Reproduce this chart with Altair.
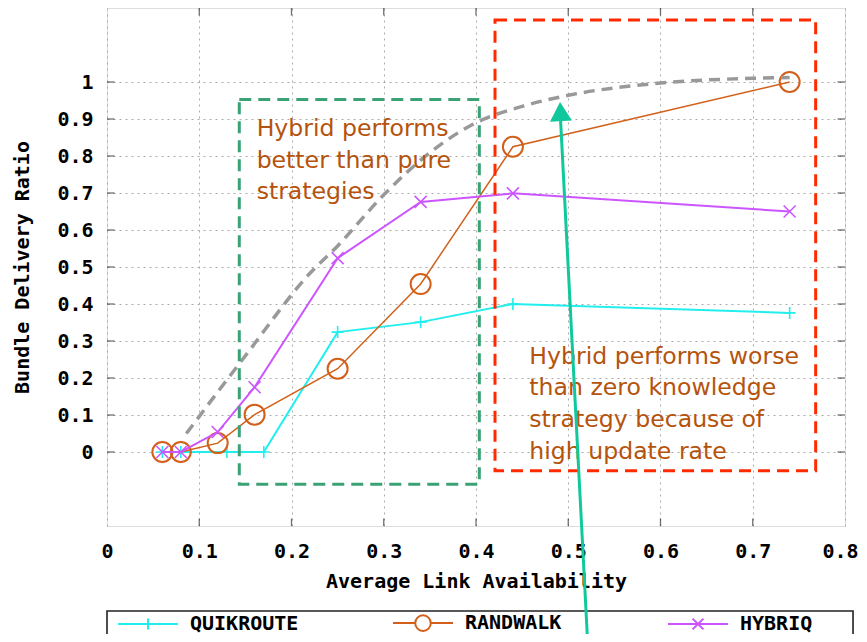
import altair as alt
import pandas as pd

# ---------------- data ----------------
series_names = ["QUIKROUTE", "RANDWALK", "HYBRIQ"]
series_colors = ["#22eeee", "#d2601a", "#cc55ff"]

quik_x = [0.06, 0.08, 0.13, 0.17, 0.25, 0.34, 0.44, 0.74]
quik_y = [0.0, 0.0, 0.0, 0.0, 0.324, 0.351, 0.400, 0.376]
rand_x = [0.06, 0.08, 0.12, 0.16, 0.25, 0.34, 0.44, 0.74]
rand_y = [0.0, 0.0, 0.024, 0.101, 0.225, 0.454, 0.825, 1.0]
hyb_x = [0.06, 0.08, 0.12, 0.16, 0.25, 0.34, 0.44, 0.74]
hyb_y = [0.0, 0.0, 0.054, 0.175, 0.524, 0.676, 0.699, 0.650]

ideal_x = [0.086, 0.15, 0.22, 0.25, 0.30, 0.35, 0.40, 0.45, 0.50, 0.60, 0.70, 0.74]
ideal_y = [0.05, 0.26, 0.483, 0.557, 0.695, 0.809, 0.89, 0.934, 0.964, 0.997, 1.01, 1.012]

x_domain = [0, 0.8]
y_domain = [-0.2, 1.2]
x_ticks = [0, 0.1, 0.2, 0.3, 0.4, 0.5, 0.6, 0.7, 0.8]
y_ticks = [0, 0.1, 0.2, 0.3, 0.4, 0.5, 0.6, 0.7, 0.8, 0.9, 1]

box_x1 = [0.1434, 0.4206]
box_x2 = [0.4036, 0.7682]
box_y1 = [-0.0873, -0.0505]
box_y2 = [0.953, 1.1676]
box_colors = ["#3aa274", "#ff2a00"]

legend_box_x = [0.0, 0.8087]
legend_box_y = [-0.4297, -0.65]

note_texts = ["Hybrid performs\nbetter than pure\nstrategies",
              "Hybrid performs worse\nthan zero knowledge\nstrategy because of\nhigh update rate"]
note_x = [0.1622, 0.4578]
note_y = [0.9054, 0.2895]

arrow_x = [0.521, 0.4915]
arrow_y = [-0.5135, 0.905]
arrow_head_x = [0.4916]
arrow_head_y = [0.920]

marker_paths = ["M-1,0L1,0M0,-1L0,1", "circle", "M-1,-1L1,1M-1,1L1,-1"]
marker_sizes = [144, 400, 144]
line_widths = [2, 1.5, 2]
legend_paths = ["M-10,0L10,0M0,-1.8L0,1.8",
                "M-10,0L-2.6,0A2.6,2.6 0 1,1 2.6,0A2.6,2.6 0 1,1 -2.6,0M2.6,0L10,0",
                "M-10,0L10,0M-1.8,-1.8L1.8,1.8M-1.8,1.8L1.8,-1.8"]

# ---------------- tables ----------------
rows = []
for name, xs, ys in zip(series_names, [quik_x, rand_x, hyb_x], [quik_y, rand_y, hyb_y]):
    for i, (a, b) in enumerate(zip(xs, ys)):
        rows.append({"series": name, "x": a, "y": b, "order": i})
df = pd.DataFrame(rows)
ideal_df = pd.DataFrame({"x": ideal_x, "y": ideal_y})
box_df = pd.DataFrame({"x": box_x1, "x2": box_x2, "y": box_y1, "y2": box_y2, "c": box_colors})
legend_box_df = pd.DataFrame({"x": [legend_box_x[0]], "x2": [legend_box_x[1]],
                              "y": [legend_box_y[0]], "y2": [legend_box_y[1]]})
note_df = pd.DataFrame({"x": note_x, "y": note_y, "t": note_texts})
arrow_df = pd.DataFrame({"x": arrow_x, "y": arrow_y})
head_df = pd.DataFrame({"x": arrow_head_x, "y": arrow_head_y})
xtick_df = pd.DataFrame([{"x": t, "y": e} for t in x_ticks[1:-1] for e in y_domain])
ytick_df = pd.DataFrame([{"x": e, "y": t} for t in y_ticks for e in x_domain])

MONO = "DejaVu Sans Mono"
xscale = alt.Scale(domain=x_domain, nice=False, zero=False)
yscale = alt.Scale(domain=y_domain, nice=False, zero=False)

last_test = "datum.value >= 0.79"
x_axis = alt.Axis(values=x_ticks, format="~g", grid=True, gridDash=[2, 4], gridColor="#aaaaaa",
                  gridWidth=1, ticks=False, tickSize=0, domain=False, labelFont=MONO,
                  labelFontSize=20, labelFontWeight="bold", labelColor="black", labelPadding=15,
                  labelFlush=False, labelOverlap=False,
                  labelAlign={"condition": {"test": last_test, "value": "right"}, "value": "center"},
                  labelOffset={"condition": {"test": last_test, "value": 13}, "value": 0},
                  title="Average Link Availability",
                  titleFont=MONO, titleFontSize=20, titleFontWeight="bold", titleColor="black",
                  titleY=55, titleBaseline="middle")
y_axis = alt.Axis(values=y_ticks, format="~g", grid=True, gridDash=[2, 4], gridColor="#aaaaaa",
                  gridWidth=1, ticks=False, tickSize=0, domain=False, labelFont=MONO,
                  labelFontSize=20, labelFontWeight="bold", labelColor="black", labelPadding=14,
                  labelOverlap=False, title="Bundle Delivery Ratio",
                  titleFont=MONO, titleFontSize=20, titleFontWeight="bold", titleColor="black",
                  titleX=-85, titleY=259, titleBaseline="middle", titleAngle=270)


def X(f="x"):
    return alt.X(f, type="quantitative", scale=xscale, axis=x_axis)


def Y(f="y"):
    return alt.Y(f, type="quantitative", scale=yscale, axis=y_axis)


layers = []

# inward border ticks (clipped so only the inner half shows)
layers.append(alt.Chart(xtick_df).mark_tick(orient="vertical", size=15, thickness=1.3, color="#333333",
                                            clip=True).encode(x=X(), y=Y()))
layers.append(alt.Chart(ytick_df).mark_tick(orient="horizontal", size=15, thickness=1.3, color="#333333",
                                            clip=True).encode(x=X(), y=Y()))

# series lines and markers
for name, col, path, size, lw in zip(series_names, series_colors, marker_paths, marker_sizes, line_widths):
    sub = alt.Chart(df).transform_filter(alt.datum.series == name)
    layers.append(sub.mark_line(color=col, strokeWidth=lw).encode(x=X(), y=Y(), order="order:Q"))
    layers.append(sub.mark_point(shape=path, color=col, size=size, strokeWidth=2 if name == "RANDWALK" else 1.6,
                                 filled=False, opacity=1).encode(x=X(), y=Y()))

# ideal dashed curve
layers.append(alt.Chart(ideal_df).mark_line(color="#999999", strokeWidth=3.5, strokeDash=[11, 7],
                                            interpolate="monotone").encode(x=X(), y=Y()))

# dashed boxes
for i in range(len(box_x1)):
    layers.append(alt.Chart(box_df.iloc[[i]]).mark_rect(fill="transparent", stroke=box_colors[i],
                                                        strokeWidth=3, strokeDash=[12, 7]).encode(
        x=X(), x2="x2", y=Y(), y2="y2"))

# annotation text
layers.append(alt.Chart(note_df).mark_text(align="left", baseline="top", lineBreak="\n",
                                           font="DejaVu Sans", fontSize=23.6, lineHeight=31.6,
                                           color="#b5530d").encode(x=X(), y=Y(), text="t:N"))

# legend frame
layers.append(alt.Chart(legend_box_df).mark_rect(fill="white", stroke="#222222", strokeWidth=1.6,
                                                 clip=False).encode(x=X(), x2="x2", y=Y(), y2="y2"))

# legend layer (invisible points, visible legend symbols)
legend_def = alt.Legend(title=None, orient="none", legendX=0, legendY=601, direction="horizontal",
                        columns=3, columnPadding=87, gridAlign="all", padding=4,
                        symbolSize=36, symbolStrokeWidth=2,
                        symbolOffset=27, labelOffset=32, labelFont=MONO, labelFontSize=20,
                        labelFontWeight="bold", labelColor="black", symbolOpacity=1,
                        labelLimit=300)
layers.append(alt.Chart(df).mark_point(opacity=0, filled=False, strokeWidth=2).encode(
    x=X(), y=Y(),
    color=alt.Color("series:N", scale=alt.Scale(domain=series_names, range=series_colors), legend=legend_def),
    shape=alt.Shape("series:N", scale=alt.Scale(domain=series_names, range=legend_paths), legend=legend_def),
))

# arrow
layers.append(alt.Chart(arrow_df).mark_line(color="#10c89c", strokeWidth=3, clip=False).encode(x=X(), y=Y()))
layers.append(alt.Chart(head_df).mark_point(shape="triangle-up", filled=True, size=484, angle=357,
                                            color="#10c89c", opacity=1, clip=False).encode(x=X(), y=Y()))

chart = alt.layer(*layers).properties(
    width=738, height=518,
    padding={"left": 99, "top": 0, "right": 14, "bottom": 108},
    autosize=alt.AutoSizeParams(type="none"),
).configure_view(stroke="#222222", strokeWidth=1.6).configure(background="white")

chart.save("out.html", embed_options={"renderer": "svg", "actions": False})
